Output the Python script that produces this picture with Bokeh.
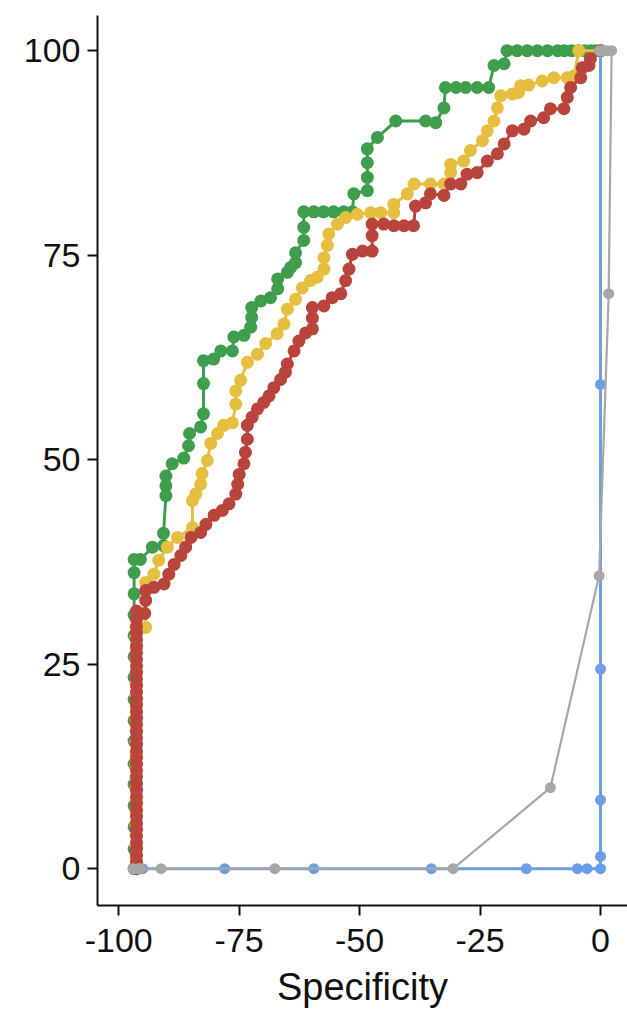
from bokeh.plotting import figure
from bokeh.models import FixedTicker, Range1d
from bokeh.embed import file_html
from bokeh.resources import INLINE

# ---------------- data ----------------
x_ticks = [-100, -75, -50, -25, 0]
y_ticks = [0, 25, 50, 75, 100]
x_tick_labels = ["-100", "-75", "-50", "-25", "0"]
y_tick_labels = ["0", "25", "50", "75", "100"]
x_label = "Specificity"

green_x = [-96.8] * 15 + [
    -96.8, -95.5, -93.0, -90.7, -90.7, -90.2, -90.2, -90.2, -88.9, -86.5, -85.5, -85.3,
    -83.0, -82.4, -82.4, -82.4, -80.3, -78.8, -76.4, -76.1, -74.0, -72.6, -72.4, -72.4,
    -70.5, -68.5, -67.0, -67.0, -65.0, -64.3, -63.3, -63.3, -61.6, -61.6, -61.6, -59.5,
    -57.5, -55.4, -53.3, -51.5, -51.2, -48.4, -48.4, -48.4, -48.4, -46.3, -42.5, -36.3,
    -34.2, -32.5, -32.2, -30.0, -28.0, -25.6, -23.2, -22.1, -20.0, -19.4, -17.3, -15.2,
    -13.1, -11.0, -8.9, -7.5, -6.0, -4.6, -3.3, -2.0, -1.0, 0.0]
green_y = [0.0, 2.4, 5.1, 7.7, 10.3, 12.8, 15.6, 18.1, 20.7, 23.4, 25.9, 28.5, 31.0, 33.6, 36.2] + [
    37.8, 37.8, 39.3, 39.5, 41.0, 45.6, 46.8, 48.0, 49.5, 50.2, 51.7, 53.2,
    54.0, 55.6, 59.3, 62.1, 62.3, 63.3, 63.3, 65.0, 65.2, 66.2, 67.4, 68.6,
    69.4, 69.8, 70.9, 72.1, 72.9, 73.5, 74.1, 75.3, 76.8, 78.4, 80.3, 80.3,
    80.3, 80.3, 80.3, 80.3, 82.5, 82.9, 84.5, 86.3, 88.0, 89.4, 91.4, 91.4,
    91.2, 93.0, 95.5, 95.5, 95.5, 95.5, 95.5, 98.2, 98.4, 100.0, 100.0, 100.0,
    100.0, 100.0, 100.0, 100.0, 100.0, 100.0, 100.0, 100.0, 100.0, 100.0]

yellow_x = [-96.4] * 22 + [
    -94.4, -94.4, -92.7, -91.7, -89.9, -87.8, -84.7, -84.7, -84.0, -83.0, -82.7, -81.6,
    -80.9, -79.5, -78.2, -76.4, -75.7, -75.7, -74.7, -73.3, -71.2, -69.5, -67.1, -65.7,
    -65.0, -63.3, -61.9, -60.2, -58.8, -57.4, -57.4, -56.7, -56.4, -54.6, -52.9, -50.5,
    -47.7, -45.6, -42.9, -42.9, -40.1, -38.7, -35.3, -32.5, -31.1, -31.1, -28.4, -27.0,
    -24.5, -23.5, -22.1, -21.4, -20.7, -18.3, -17.0, -16.6, -14.9, -12.1, -9.7, -6.9,
    -5.5, -4.5, 0.0]
yellow_y = [0.0, 1.3, 2.8, 4.1, 5.5, 7.0, 8.4, 9.8, 11.2, 12.7, 14.1, 15.5, 16.9, 18.4,
            19.8, 21.2, 22.6, 24.1, 25.5, 26.9, 28.4, 29.5] + [
    29.5, 35.0, 36.0, 37.7, 39.3, 40.5, 41.7, 45.0, 45.8, 47.0, 48.3, 49.9,
    52.0, 53.2, 54.2, 54.5, 56.8, 58.4, 59.7, 61.9, 62.9, 64.2, 65.4, 66.6,
    68.4, 69.6, 71.0, 71.9, 72.3, 73.3, 74.7, 76.2, 77.6, 78.8, 79.6, 80.0,
    80.2, 80.2, 80.2, 81.2, 82.5, 83.7, 83.7, 83.7, 85.1, 86.1, 86.5, 87.8,
    89.0, 90.2, 91.4, 93.0, 94.5, 94.7, 94.9, 95.7, 95.8, 96.3, 96.7, 96.7,
    96.9, 100.0, 100.0]

red_x = [-96.3] * 40 + [
    -94.6, -94.4, -94.4, -92.7, -90.6, -89.6, -88.5, -87.1, -86.1, -85.0, -83.0, -81.9,
    -80.2, -78.5, -77.1, -75.7, -75.3, -75.0, -74.0, -73.7, -73.3, -73.3, -72.3, -71.2,
    -69.9, -68.8, -67.8, -66.4, -65.4, -65.0, -63.6, -62.6, -61.2, -59.8, -59.8, -59.8,
    -57.4, -55.7, -53.9, -52.9, -52.2, -51.5, -49.4, -47.4, -47.4, -47.4, -45.0, -42.9,
    -40.8, -38.8, -38.4, -36.3, -35.3, -32.5, -31.1, -29.0, -27.7, -25.6, -23.5, -21.4,
    -20.0, -18.3, -15.9, -14.5, -11.8, -10.4, -7.6, -6.9, -6.2, -4.1, -3.8, -2.4,
    -2.1, 0.0]
red_y = [0.0, 0.8, 1.6, 2.4, 3.2, 4.0, 4.8, 5.6, 6.4, 7.2, 8.0, 8.8, 9.6, 10.4, 11.2,
         12.0, 12.8, 13.6, 14.4, 15.2, 16.0, 16.8, 17.6, 18.4, 19.2, 20.0, 20.8, 21.6,
         22.4, 23.2, 24.0, 24.8, 25.6, 26.4, 27.2, 28.0, 28.8, 29.6, 30.5, 31.5] + [
    31.2, 32.8, 34.0, 34.4, 34.8, 36.0, 37.2, 38.3, 39.3, 40.5, 41.1, 42.1,
    43.2, 43.8, 44.6, 45.8, 47.0, 48.2, 49.5, 50.9, 52.5, 54.2, 55.2, 56.2,
    57.0, 57.8, 58.8, 59.8, 60.7, 61.7, 63.3, 64.5, 65.5, 66.0, 67.3, 68.6,
    68.8, 69.8, 70.3, 71.9, 73.3, 75.1, 75.5, 75.5, 77.4, 78.8, 78.8, 78.6,
    78.6, 78.6, 81.0, 81.4, 82.5, 82.3, 83.7, 83.7, 84.9, 85.1, 86.5, 87.4,
    88.6, 90.2, 90.4, 91.4, 91.8, 92.9, 92.9, 94.3, 95.5, 96.7, 97.9, 98.2,
    99.0, 100.0]

blue_x = [-95.0, -78.0, -59.5, -35.1, -15.4, -4.8, -2.8, 0.0, 0.0, 0.0, 0.0, 0.0, 0.0]
blue_y = [0.0, 0.0, 0.0, 0.0, 0.0, 0.0, 0.0, 0.0, 1.5, 8.4, 24.4, 59.2, 100.0]

gray_x = [-97.0, -96.0, -95.5, -91.2, -67.6, -30.6, -10.4, -0.3, 1.7, 2.3, 1.5, 0.6, -0.2]
gray_y = [0.0, 0.0, 0.0, 0.0, 0.0, 0.0, 9.9, 35.8, 70.3, 100.0, 100.0, 100.0, 100.0]

# ---------------- figure ----------------
FONT = "Liberation Sans"
p = figure(frame_width=530, frame_height=890,
           x_range=Range1d(-104.4, 5.6), y_range=Range1d(-4.5, 104.3),
           output_backend="svg", toolbar_location=None,
           min_border_left=97, min_border_right=0, min_border_top=15, min_border_bottom=0)
p.background_fill_color = "white"
p.border_fill_color = "white"
p.outline_line_color = None
p.xgrid.visible = False
p.ygrid.visible = False

series = [
    (green_x, green_y, "#3f9e4c", 3.0, 13),
    (yellow_x, yellow_y, "#e6be40", 3.0, 13),
    (red_x, red_y, "#b9443b", 3.0, 13),
    (blue_x, blue_y, "#6b9ee4", 3.0, 11),
    (gray_x, gray_y, "#a7a7a7", 2.2, 11),
]
for xs, ys, col, lw, sz in series:
    p.line(xs, ys, line_color=col, line_width=lw)
    p.scatter(xs, ys, size=sz, fill_color=col, line_color=None)

for ax in (p.xaxis[0], p.yaxis[0]):
    ax.axis_line_color = "#111111"
    ax.axis_line_width = 2
    ax.major_tick_line_color = "#111111"
    ax.major_tick_line_width = 2
    ax.major_tick_out = 10
    ax.major_tick_in = 0
    ax.minor_tick_line_color = None
    ax.major_label_text_font = FONT
    ax.major_label_text_font_size = "34px"
    ax.major_label_text_color = "#111111"

p.xaxis[0].ticker = FixedTicker(ticks=x_ticks)
p.yaxis[0].ticker = FixedTicker(ticks=y_ticks)
p.xaxis[0].major_label_overrides = dict(zip(x_ticks, x_tick_labels))
p.yaxis[0].major_label_overrides = dict(zip(y_ticks, y_tick_labels))
p.xaxis[0].major_label_standoff = 13
p.yaxis[0].major_label_standoff = 7
p.xaxis[0].axis_label = x_label
p.xaxis[0].axis_label_text_font = FONT
p.xaxis[0].axis_label_text_font_size = "38px"
p.xaxis[0].axis_label_text_font_style = "normal"
p.xaxis[0].axis_label_text_color = "#111111"
p.xaxis[0].axis_label_standoff = 11

open("out.html", "w").write(file_html(p, INLINE))
